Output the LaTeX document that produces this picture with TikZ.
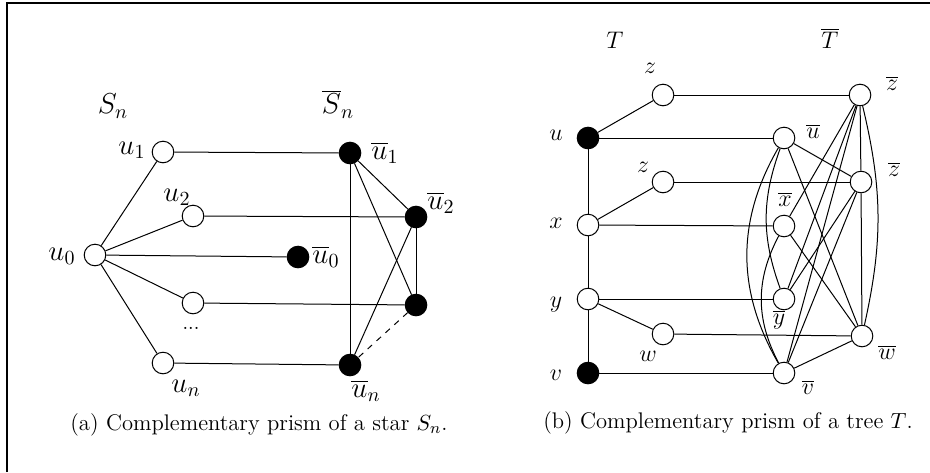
\documentclass[tikz,border=0pt]{standalone}
\begin{document}
\begin{tikzpicture}[x=0.5pt,y=-0.5pt,
  vtx/.style={circle,draw,line width=0.5pt,minimum size=10.8pt,inner sep=0pt,fill=white},
  bvtx/.style={vtx,fill=black},
  lbl/.style={inner sep=0pt,font=\fontsize{14}{16}\selectfont},
  lblb/.style={inner sep=0pt,font=\fontsize{13}{15}\selectfont},
  edg/.style={line width=0.5pt},
  captxt/.style={inner sep=0pt,font=\fontsize{11.3}{13}\selectfont}
]
\useasboundingbox (0,0) rectangle (930,472);
\coordinate (fa) at (7,472);
\coordinate (fb) at (7,3);
\coordinate (fc) at (930,3);
\draw[line width=1pt] (fa) -- (fb) -- (fc);

% ---------- (a) ----------
\node[vtx] (u0) at (95,255) {};
\node[vtx] (u1) at (163,152) {};
\node[vtx] (u2) at (193,216) {};
\node[vtx] (u3) at (193,303) {};
\node[vtx] (un) at (163,363) {};
\node[bvtx] (b0) at (298,257) {};
\node[bvtx] (b1) at (350,153) {};
\node[bvtx] (b2) at (416,217) {};
\node[bvtx] (b3) at (416,305) {};
\node[bvtx] (bn) at (350,365) {};

\draw[edg] (u0) -- (u1);
\draw[edg] (u0) -- (u2);
\draw[edg] (u0) -- (b0);
\draw[edg] (u0) -- (u3);
\draw[edg] (u0) -- (un);
\draw[edg] (u1) -- (b1);
\draw[edg] (u2) -- (b2);
\draw[edg] (u3) -- (b3);
\draw[edg] (un) -- (bn);
\draw[edg] (b1) -- (bn);
\draw[edg] (b1) -- (b2);
\draw[edg] (b1) -- (b3);
\draw[edg] (b2) -- (b3);
\draw[edg] (b2) -- (bn);
\draw[edg,dashed] (b3) -- (bn);

\node[lbl] (lSn) at (113,106) {$S_n$};
\node[lbl] (lSbn) at (338,104) {$\overline{S}_n$};
\node[lbl] (lu0) at (62,256) {$u_0$};
\node[lbl] (lu1) at (132,150) {$u_1$};
\node[lbl] (lu2) at (177,197) {$u_2$};
\node[lbl] (lun) at (186,388) {$u_n$};
\node[lbl] (lb0) at (326,257) {$\overline{u}_0$};
\node[lbl] (lb1) at (385,153) {$\overline{u}_1$};
\node[lbl] (lb2) at (441,203) {$\overline{u}_2$};
\node[lbl] (lbn) at (366,391) {$\overline{u}_n$};
\node[inner sep=0pt,font=\fontsize{10}{12}\selectfont] (dots) at (191,328) {...};

\node[captxt] (capa) at (259,425) {(a) Complementary prism of a star $S_n$.};

% ---------- (b) ----------
\node[vtx] (z1) at (663,95) {};
\node[bvtx] (u) at (588,138) {};
\node[vtx] (z2) at (663,182) {};
\node[vtx] (x) at (588,225) {};
\node[vtx] (y) at (588,299) {};
\node[vtx] (w) at (663,334) {};
\node[bvtx] (v) at (588,373) {};

\node[vtx] (zb1) at (860,95) {};
\node[vtx] (ub) at (784,138) {};
\node[vtx] (zb2) at (861,182) {};
\node[vtx] (xb) at (784,226) {};
\node[vtx] (yb) at (784,299) {};
\node[vtx] (wb) at (862,336) {};
\node[vtx] (vb) at (784,373) {};

\draw[edg] (u) -- (z1);
\draw[edg] (u) -- (x);
\draw[edg] (x) -- (z2);
\draw[edg] (x) -- (y);
\draw[edg] (y) -- (w);
\draw[edg] (y) -- (v);

\draw[edg] (z1) -- (zb1);
\draw[edg] (u) -- (ub);
\draw[edg] (z2) -- (zb2);
\draw[edg] (x) -- (xb);
\draw[edg] (y) -- (yb);
\draw[edg] (w) -- (wb);
\draw[edg] (v) -- (vb);

% complement edges
\draw[edg] (ub) -- (zb2);
\draw[edg] (ub) -- (wb);
\draw[edg] (ub) to[bend right=20] (yb);
\draw[edg] (ub) to[bend right=30] (vb);
\draw[edg] (zb1) -- (xb);
\draw[edg] (zb1) -- (zb2);
\draw[edg] (zb1) -- (yb);
\draw[edg] (zb1) to[bend left=13] (wb);
\draw[edg] (zb1) -- (vb);
\draw[edg] (xb) -- (wb);
\draw[edg] (xb) to[bend right=28] (vb);
\draw[edg] (zb2) -- (yb);
\draw[edg] (zb2) -- (wb);
\draw[edg] (zb2) -- (vb);
\draw[edg] (wb) -- (vb);

\node[lblb] (lT) at (615,40) {$T$};
\node[lblb] (lTb) at (830,38) {$\overline{T}$};
\node[lblb] (lz1) at (650,68) {$z$};
\node[lblb] (lz2) at (643,167) {$z$};
\node[lblb] (lu) at (556,135) {$u$};
\node[lblb] (lx) at (556,223) {$x$};
\node[lblb] (ly) at (556,305) {$y$};
\node[lblb] (lw) at (648,356) {$w$};
\node[lblb] (lv) at (556,375) {$v$};
\node[lblb] (lzb1) at (892,83) {$\overline{z}$};
\node[lblb] (lub) at (813,131) {$\overline{u}$};
\node[lblb] (lzb2) at (894,169) {$\overline{z}$};
\node[lblb] (lxb) at (785,199) {$\overline{x}$};
\node[lblb] (lyb) at (779,320) {$\overline{y}$};
\node[lblb] (lwb) at (887,352) {$\overline{w}$};
\node[lblb] (lvb) at (808,387) {$\overline{v}$};

\node[captxt] (capb) at (728,423) {(b) Complementary prism of a tree $T$.};
\end{tikzpicture}
\end{document}
